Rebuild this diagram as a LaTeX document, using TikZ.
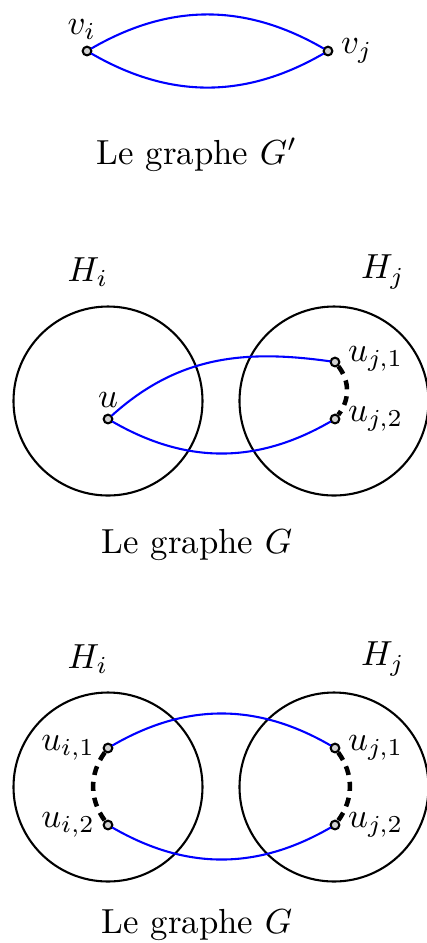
\documentclass[tikz,border=0pt]{standalone}
\begin{document}
\begin{tikzpicture}[x=0.0101cm, y=0.0101cm, line join=round, line cap=round]
	\tikzset{
	vert/.style={circle, draw, fill=gray!35, inner sep=0pt, minimum size=2.5pt, line width=0.6pt},
	arete/.style={blue, line width=0.6pt},
	chemin/.style={black, line width=1.3pt, dash pattern=on 2.6pt off 2pt, line cap=butt},
	boule/.style={black, line width=0.6pt},
	etiq/.style={inner sep=1pt}
	}
	\useasboundingbox (0,0) rectangle (427,-943);
	% le graphe G'
	\node[vert] (vi) at (87,-51) {};
	\node[vert] (vj) at (328,-51) {};
	\node[etiq, above=0.5pt, xshift=-1.5pt] at (vi.north) {$v_i$};
	\node[etiq, right=1pt] at (vj.east) {$v_j$};
	\draw[arete] (vi) to[bend left=30] (vj);
	\draw[arete] (vi) to[bend right=30] (vj);
	\node (lgp) at (197,-155) {Le graphe $G'$};
	% le graphe G
	\draw[boule] (108,-401) circle (94.5) (334,-401) circle (94.5);
	\node (hi1) at (88,-272) {$H_i$};
	\node (hj1) at (383,-272) {$H_j$};
	\node[vert] (u) at (108,-419) {};
	\node[vert] (uj1) at (335,-362) {};
	\node[vert] (uj2) at (335,-419) {};
	\node[etiq, above=0.5pt] at (u.north) {$u$};
	\node[etiq, right=1pt, yshift=1pt] at (uj1.east) {$u_{j,1}$};
	\node[etiq, right=1pt] at (uj2.east) {$u_{j,2}$};
	\draw[arete] (u) to[out=42, in=172] (uj1);
	\draw[arete] (u) to[bend right=30] (uj2);
	\draw[chemin] (uj1) to[bend left=38] (uj2);
	\node (lg1) at (197,-545) {Le graphe $G$};
	% le graphe G (deuxieme cas)
	\draw[boule] (108,-787) circle (94.5) (334,-787) circle (94.5);
	\node (hi2) at (88,-659) {$H_i$};
	\node (hj2) at (383,-659) {$H_j$};
	\foreach \s/\x/\y in {i1/108/748, i2/108/825, j1/335/748, j2/335/825}{
	\node[vert] (v\s) at (\x,-\y) {};
	}
	\node[etiq, left=1pt] at (vi1.west) {$u_{i,1}$};
	\node[etiq, left=1pt] at (vi2.west) {$u_{i,2}$};
	\node[etiq, right=1pt] at (vj1.east) {$u_{j,1}$};
	\node[etiq, right=1pt] at (vj2.east) {$u_{j,2}$};
	\draw[arete] (vi1) to[bend left=30] (vj1);
	\draw[arete] (vi2) to[bend right=30] (vj2);
	\draw[chemin] (vi1) to[bend right=36] (vi2);
	\draw[chemin] (vj1) to[bend left=36] (vj2);
	\node (lg2) at (197,-925) {Le graphe $G$};
\end{tikzpicture}
\end{document}
